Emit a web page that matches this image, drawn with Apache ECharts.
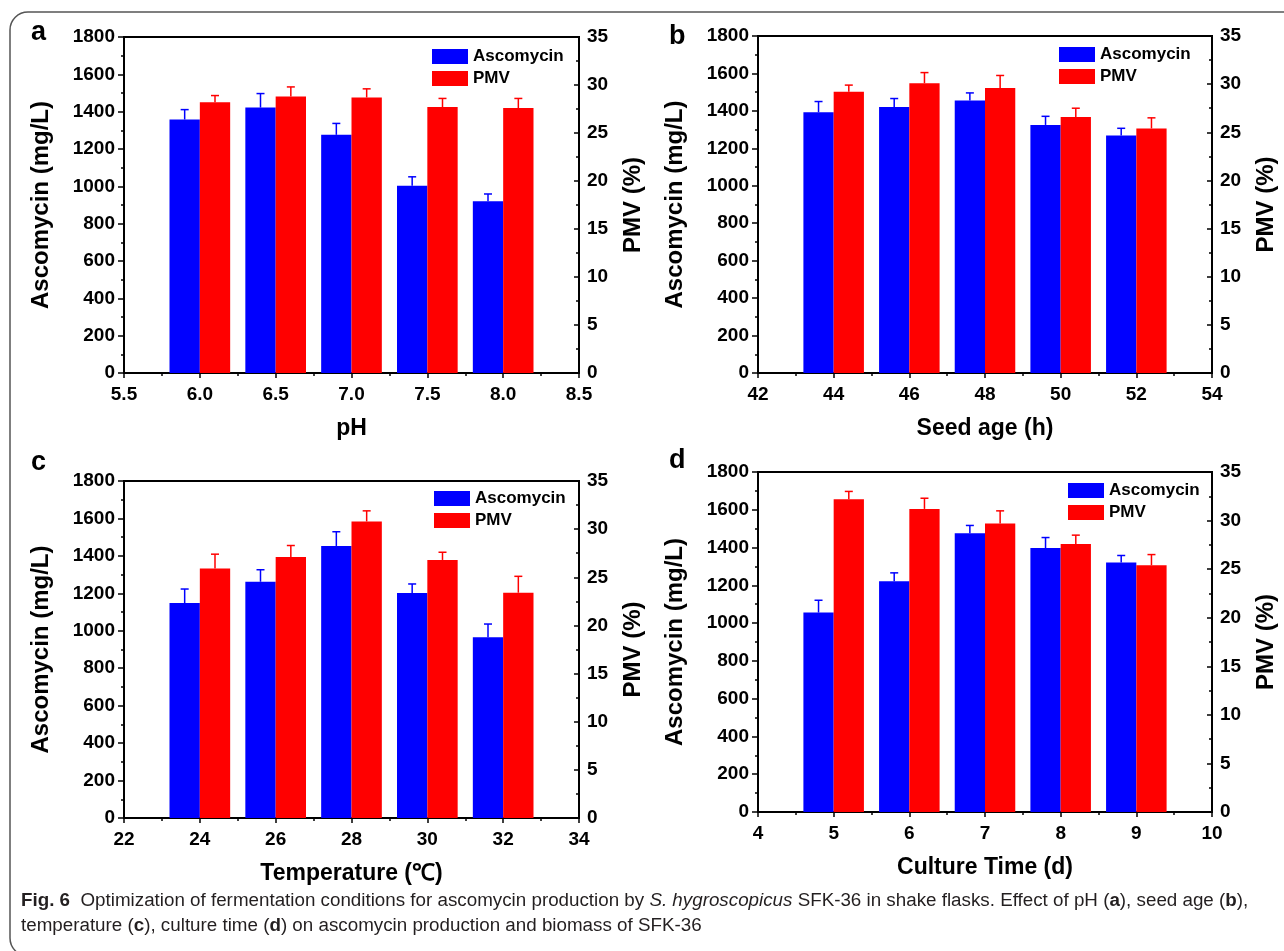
<!DOCTYPE html>
<html>
<head>
<meta charset="utf-8">
<script src="https://cdn.jsdelivr.net/npm/echarts@6/dist/echarts.min.js"></script>
<style>
  html, body { margin: 0; padding: 0; background: #fff; }
  #chart { width: 1284px; height: 951px; }
</style>
</head>
<body>
<div id="chart"></div>
<script>
// panel a: pH
var phLevels = [6.0, 6.5, 7.0, 7.5, 8.0];
var phAscomycin = [1358, 1422, 1276, 1003, 920];
var phAscomycinErr = [53, 75, 61, 48, 39];
var phPmv = [28.2, 28.8, 28.7, 27.7, 27.6];
var phPmvErr = [0.7, 1.0, 0.9, 0.9, 1.0];

// panel b: seed age (h)
var seedAges = [44, 46, 48, 50, 52];
var seedAscomycin = [1393, 1421, 1455, 1325, 1268];
var seedAscomycinErr = [57, 45, 41, 46, 39];
var seedPmv = [29.2, 30.1, 29.6, 26.6, 25.4];
var seedPmvErr = [0.7, 1.1, 1.3, 0.9, 1.1];

// panel c: temperature
var temps = [24, 26, 28, 30, 32];
var tempAscomycin = [1148, 1262, 1453, 1202, 965];
var tempAscomycinErr = [75, 64, 76, 48, 71];
var tempPmv = [25.9, 27.1, 30.8, 26.8, 23.4];
var tempPmvErr = [1.5, 1.2, 1.1, 0.8, 1.7];

// panel d: culture time (d)
var cultureDays = [5, 6, 7, 8, 9];
var cultureAscomycin = [1056, 1222, 1476, 1397, 1321];
var cultureAscomycinErr = [65, 44, 41, 56, 37];
var culturePmv = [32.2, 31.2, 29.7, 27.6, 25.4];
var culturePmvErr = [0.8, 1.1, 1.3, 0.9, 1.1];

var ascomycinTicks = { min: 0, max: 1800, interval: 200 };
var pmvTicks = { min: 0, max: 35, interval: 5 };

var panels = [
  { letter: 'a', xName: 'pH', xMin: 5.5, xMax: 8.5, xStep: 0.5, decimals: 1, barW: 0.2,
    x: phLevels, asc: phAscomycin, ascErr: phAscomycinErr, pmv: phPmv, pmvErr: phPmvErr,
    grid: { left: 124, top: 37, width: 455, height: 336 }, legend: { left: 432, top: 48 }, label: [39, 33] },
  { letter: 'b', xName: 'Seed age (h)', xMin: 42, xMax: 54, xStep: 2, decimals: 0, barW: 0.8,
    x: seedAges, asc: seedAscomycin, ascErr: seedAscomycinErr, pmv: seedPmv, pmvErr: seedPmvErr,
    grid: { left: 758, top: 36, width: 454, height: 337 }, legend: { left: 1059, top: 46 }, label: [677, 37] },
  { letter: 'c', xName: 'Temperature (℃)', xMin: 22, xMax: 34, xStep: 2, decimals: 0, barW: 0.8,
    x: temps, asc: tempAscomycin, ascErr: tempAscomycinErr, pmv: tempPmv, pmvErr: tempPmvErr,
    grid: { left: 124, top: 481, width: 455, height: 337 }, legend: { left: 434, top: 490 }, label: [39, 463] },
  { letter: 'd', xName: 'Culture Time (d)', xMin: 4, xMax: 10, xStep: 1, decimals: 0, barW: 0.4,
    x: cultureDays, asc: cultureAscomycin, ascErr: cultureAscomycinErr, pmv: culturePmv, pmvErr: culturePmvErr,
    grid: { left: 758, top: 472, width: 454, height: 340 }, legend: { left: 1068, top: 482 }, label: [677, 461] }
];

var BLUE = '#0000ff';
var RED = '#ff0000';
var FONT = "'Liberation Sans', Arial, sans-serif";
var CAPTION_FONT = "'Liberation Sans', Arial, sans-serif";

function zip(xs, ys, es) {
  return xs.map(function (x, i) { return [x, ys[i], es[i]]; });
}

// bar with upper error bar; side -1 = left of the x value, +1 = right of it
function barRenderer(side, barW) {
  return function (params, api) {
    var x = api.value(0), y = api.value(1), err = api.value(2);
    var x0 = side < 0 ? x - barW : x;
    var base = api.coord([x0, 0]);
    var top = api.coord([x0 + barW, y]);
    var cap = api.coord([x0 + barW / 2, y + err]);
    var color = api.visual('color');
    var line = { stroke: color, lineWidth: 1.5 };
    return {
      type: 'group',
      children: [
        { type: 'rect', shape: { x: base[0], y: top[1], width: top[0] - base[0], height: base[1] - top[1] }, style: { fill: color } },
        { type: 'line', shape: { x1: cap[0], y1: top[1], x2: cap[0], y2: cap[1] }, style: line },
        { type: 'line', shape: { x1: cap[0] - 4, y1: cap[1], x2: cap[0] + 4, y2: cap[1] }, style: line }
      ]
    };
  };
}

var axisLine = { lineStyle: { color: '#000', width: 2 } };
var tickLine = { color: '#000', width: 1.5 };
var nameStyle = { color: '#000', fontFamily: FONT, fontWeight: 'bold', fontSize: 23 };

var grids = [], xAxes = [], yAxes = [], series = [], legends = [], graphics = [];

panels.forEach(function (p, i) {
  grids.push({ left: p.grid.left, top: p.grid.top, width: p.grid.width, height: p.grid.height,
    show: true, borderColor: '#000', borderWidth: 2 });

  xAxes.push({
    gridIndex: i, type: 'value', min: p.xMin, max: p.xMax, interval: p.xStep,
    name: p.xName, nameLocation: 'middle', nameGap: 44, nameTextStyle: nameStyle,
    axisLine: axisLine,
    axisTick: { length: 5, lineStyle: tickLine },
    minorTick: { show: true, splitNumber: 2, length: 3, lineStyle: tickLine },
    axisLabel: { margin: 12, color: '#000', fontFamily: FONT, fontWeight: 'bold', fontSize: 19,
      formatter: function (v) { return v.toFixed(p.decimals); } },
    splitLine: { show: false }
  });

  yAxes.push({
    gridIndex: i, type: 'value', position: 'left',
    min: ascomycinTicks.min, max: ascomycinTicks.max, interval: ascomycinTicks.interval,
    name: 'Ascomycin (mg/L)', nameLocation: 'middle', nameGap: 71, nameRotate: 90,
    nameTextStyle: { color: '#000', fontFamily: FONT, fontWeight: 'bold', fontSize: 24 },
    axisLine: { show: true, lineStyle: axisLine.lineStyle },
    axisTick: { show: true, length: 6, lineStyle: tickLine },
    minorTick: { show: true, splitNumber: 2, length: 3, lineStyle: tickLine },
    axisLabel: { margin: 9, color: '#000', fontFamily: FONT, fontWeight: 'bold', fontSize: 19,
      formatter: function (v) { return String(v); } },
    splitLine: { show: false }
  });

  yAxes.push({
    gridIndex: i, type: 'value', position: 'right',
    min: pmvTicks.min, max: pmvTicks.max, interval: pmvTicks.interval,
    name: 'PMV (%)', nameLocation: 'middle', nameGap: 42, nameRotate: 90,
    nameTextStyle: { color: '#000', fontFamily: FONT, fontWeight: 'bold', fontSize: 24 },
    axisLine: { show: true, lineStyle: axisLine.lineStyle },
    axisTick: { show: true, inside: true, length: 5, lineStyle: tickLine },
    minorTick: { show: true, splitNumber: 2, length: 3, lineStyle: tickLine },
    axisLabel: { margin: 8, color: '#000', fontFamily: FONT, fontWeight: 'bold', fontSize: 19,
      formatter: function (v) { return String(v); } },
    splitLine: { show: false }
  });

  series.push({
    type: 'custom', name: 'Ascomycin', xAxisIndex: i, yAxisIndex: 2 * i,
    itemStyle: { color: BLUE }, encode: { x: 0, y: 1 },
    renderItem: barRenderer(-1, p.barW), data: zip(p.x, p.asc, p.ascErr)
  });
  series.push({
    type: 'custom', name: 'PMV', xAxisIndex: i, yAxisIndex: 2 * i + 1,
    itemStyle: { color: RED }, encode: { x: 0, y: 1 },
    renderItem: barRenderer(1, p.barW), data: zip(p.x, p.pmv, p.pmvErr)
  });

  legends.push({
    left: p.legend.left, top: p.legend.top, orient: 'vertical', padding: 0,
    itemWidth: 36, itemHeight: 15, itemGap: 5, icon: 'rect',
    textStyle: { color: '#000', fontFamily: FONT, fontWeight: 'bold', fontSize: 17 },
    selectedMode: false,
    data: [{ name: 'Ascomycin', itemStyle: { color: BLUE } }, { name: 'PMV', itemStyle: { color: RED } }]
  });

  graphics.push({
    type: 'text', left: p.label[0] - 8, top: p.label[1] - 14,
    style: { text: p.letter, fill: '#000', font: 'bold 27px ' + FONT }
  });
});

// outer frame
graphics.push({
  type: 'rect', shape: { x: 10, y: 12, width: 1300, height: 944, r: 18 },
  style: { fill: 'none', stroke: '#555', lineWidth: 1.5 }, silent: true
});

var capRich = {
  b: { fontFamily: CAPTION_FONT, fontSize: 18.8, fontWeight: 'bold', fill: '#231f20', color: '#231f20' },
  i: { fontFamily: CAPTION_FONT, fontSize: 18.8, fontStyle: 'italic', fill: '#231f20', color: '#231f20' }
};
graphics.push({
  type: 'text', x: 21, y: 901,
  style: {
    text: '{b|Fig. 6}  Optimization of fermentation conditions for ascomycin production by {i|S. hygroscopicus} SFK-36 in shake flasks. Effect of pH ({b|a}), seed age ({b|b}),',
    fontFamily: CAPTION_FONT, fontSize: 18.8, fill: '#231f20', verticalAlign: 'middle', rich: capRich
  }
});
graphics.push({
  type: 'text', x: 21, y: 926,
  style: {
    text: 'temperature ({b|c}), culture time ({b|d}) on ascomycin production and biomass of SFK-36',
    fontFamily: CAPTION_FONT, fontSize: 18.8, fill: '#231f20', verticalAlign: 'middle', rich: capRich
  }
});

var chart = echarts.init(document.getElementById('chart'), null, { renderer: 'canvas' });
chart.setOption({
  animation: false,
  backgroundColor: '#fff',
  grid: grids,
  xAxis: xAxes,
  yAxis: yAxes,
  legend: legends,
  series: series,
  graphic: graphics
});
</script>
</body>
</html>
